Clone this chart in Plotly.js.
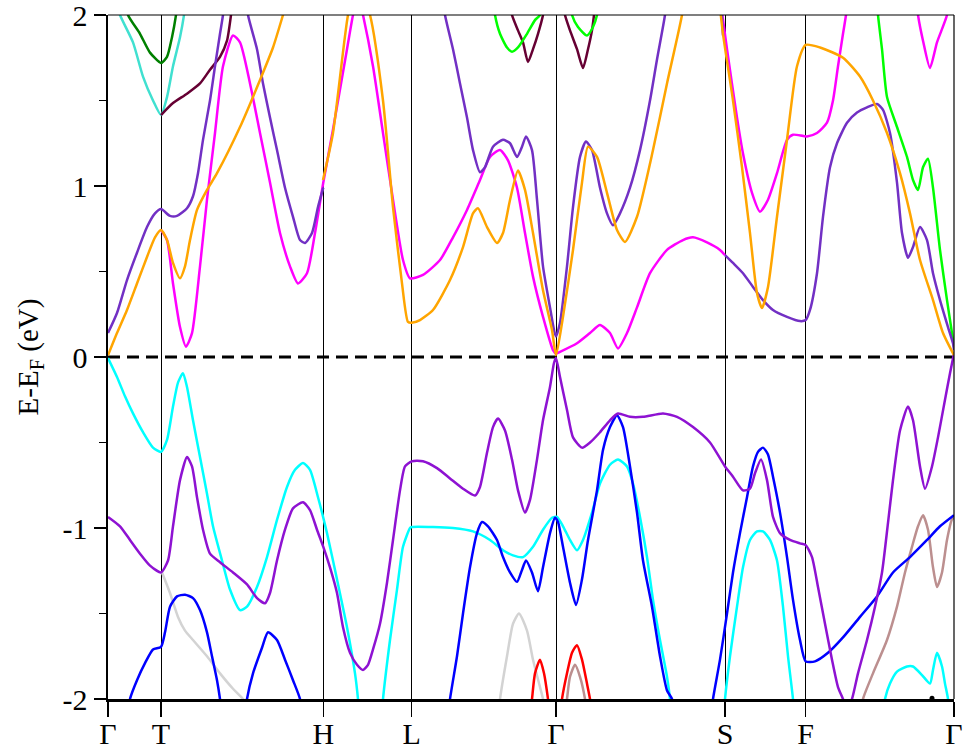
<!DOCTYPE html>
<html>
<head>
<meta charset="utf-8">
<script src="https://cdn.plot.ly/plotly-3.0.1.min.js"></script>
<style>html,body{margin:0;padding:0;background:#fff;}#plot{width:963px;height:753px;}</style>
</head>
<body>
<div id="plot"></div>
<script>
// High-symmetry path
const hsK = [0, 0.53, 2.153, 3.037, 4.48, 6.17, 6.977, 8.46];
const hsLabels = ['Γ', 'T', 'H', 'L', 'Γ', 'S', 'F', 'Γ'];
const yTickVals = [-2, -1, 0, 1, 2];
const yTickText = ['-2', '-1', '0', '1', '2'];
const yMinorVals = [-1.5, -0.5, 0.5, 1.5];
const EF = 0;

// ---- conduction bands ----
const kOrange = [0,0.09,0.19,0.29,0.39,0.47,0.53,0.59,0.65,0.72,0.77,0.82,0.89,0.99,1.09,1.32,1.52,1.65,1.75,1.85,null,
  2.15,2.25,2.40,2.49,2.62,2.75,2.85,2.94,3.00,3.037,3.12,3.25,3.42,3.55,3.65,3.70,3.79,3.89,3.95,4.02,4.10,4.17,4.25,4.35,4.44,4.48,
  4.55,4.65,4.74,4.80,4.89,4.99,5.09,5.17,5.29,5.45,5.59,5.74,5.80,null,
  6.10,6.15,6.25,6.34,6.42,6.49,6.54,6.60,6.69,6.79,6.89,6.977,7.12,7.35,7.52,7.65,7.79,7.92,8.02,8.12,8.25,8.35,8.46];
const eOrange = [0.01,0.14,0.275,0.43,0.585,0.70,0.743,0.684,0.55,0.46,0.53,0.684,0.86,0.977,1.075,1.345,1.62,1.81,2.0,2.2,null,
  1.035,1.31,2.0,2.2,2.0,1.50,0.877,0.43,0.205,0.2,0.216,0.275,0.45,0.643,0.84,0.87,0.76,0.667,0.725,0.918,1.09,0.977,0.725,0.39,0.158,0.01,
  0.235,0.626,1.02,1.23,1.17,0.96,0.743,0.673,0.82,1.21,1.60,2.0,2.25,null,
  2.15,1.89,1.50,1.11,0.725,0.374,0.286,0.41,0.82,1.27,1.70,1.825,1.81,1.75,1.64,1.50,1.31,1.075,0.84,0.567,0.333,0.14,0.01];

const kMagenta = [0.53,0.59,0.65,0.72,0.78,0.84,0.92,0.99,1.07,1.15,1.25,1.32,1.42,1.52,1.62,1.72,1.82,1.90,1.99,2.07,2.153,
  2.25,2.39,2.45,2.50,2.55,2.65,2.75,2.85,2.95,3.02,3.15,3.32,3.45,3.59,3.72,3.82,3.92,4.00,4.09,4.17,4.25,4.35,4.45,4.48,
  4.52,4.69,4.82,4.92,5.02,5.10,5.19,5.29,5.42,5.59,5.75,5.85,5.99,6.12,6.17,null,
  6.12,6.19,6.29,6.35,6.44,6.52,6.60,6.69,6.79,6.85,6.99,7.09,7.19,7.25,7.30,7.35,7.38,7.41,null,
  8.07,8.10,8.15,8.22,8.29,8.39,8.42];
const eMagenta = [0.743,0.684,0.43,0.175,0.06,0.14,0.53,0.92,1.31,1.70,1.88,1.84,1.60,1.31,1.02,0.725,0.53,0.43,0.49,0.725,1.02,
  1.33,1.80,2.0,2.12,2.0,1.70,1.31,0.92,0.567,0.46,0.48,0.567,0.70,0.86,1.035,1.17,1.21,1.15,0.99,0.725,0.47,0.235,0.04,0.02,
  0.03,0.08,0.14,0.187,0.14,0.05,0.14,0.29,0.49,0.626,0.684,0.70,0.67,0.626,0.596,null,
  2.1,1.80,1.40,1.19,0.96,0.85,0.92,1.075,1.27,1.30,1.29,1.31,1.37,1.50,1.70,1.89,2.0,2.15,null,
  2.15,2.0,1.85,1.69,1.84,2.0,2.15];

const kVioletC = [0,0.09,0.19,0.29,0.39,0.47,0.53,0.62,0.69,0.79,0.85,0.90,0.95,1.02,1.07,1.12,1.15,1.18,null,
  1.37,1.40,1.49,1.55,1.62,1.69,1.77,1.85,1.92,1.97,2.04,2.10,2.153,null,
  3.34,3.37,3.45,3.52,3.59,3.65,3.72,3.77,3.85,3.95,4.02,4.09,4.14,4.18,4.24,4.29,4.35,4.42,4.46,4.48,
  4.52,4.59,4.65,4.72,4.78,4.84,4.92,4.99,5.05,5.12,5.22,5.32,5.42,5.49,5.57,5.60,null,
  6.13,6.15,null,
  6.17,6.25,6.35,6.45,6.55,6.65,6.79,6.92,6.977,7.02,7.09,7.15,7.22,7.29,7.39,7.49,7.59,7.69,7.75,7.82,7.89,7.94,8.00,8.05,8.12,8.19,8.25,8.32,8.40,8.45,8.46];
const eVioletC = [0.14,0.257,0.45,0.61,0.76,0.84,0.865,0.825,0.825,0.87,0.94,1.075,1.27,1.50,1.70,1.89,2.0,2.15,null,
  2.15,2.0,1.80,1.60,1.40,1.21,0.99,0.82,0.684,0.667,0.725,0.877,0.99,null,
  2.15,2.0,1.80,1.60,1.40,1.21,1.08,1.11,1.23,1.27,1.25,1.17,1.23,1.29,1.21,0.92,0.53,0.29,0.158,0.12,
  0.2,0.53,0.877,1.17,1.26,1.21,0.99,0.84,0.77,0.84,0.99,1.21,1.50,1.74,2.0,2.15,null,
  2.1,1.88,null,
  0.596,0.55,0.49,0.41,0.333,0.275,0.235,0.21,0.216,0.275,0.49,0.82,1.11,1.25,1.37,1.43,1.46,1.48,1.445,1.31,1.02,0.725,0.58,0.643,0.76,0.684,0.49,0.333,0.175,0.08,0.04];

const kMaroon = [0.53,0.65,0.79,0.92,1.02,1.12,1.19,1.23,1.25,null,
  4.02,4.04,4.10,4.15,4.20,4.25,4.30,4.35,4.37,null,
  4.55,4.57,4.62,4.69,4.75,4.80,4.84,4.86,4.88];
const eMaroon = [1.415,1.485,1.54,1.60,1.68,1.755,1.85,2.0,2.1,null,
  2.1,2.0,1.91,1.84,1.725,1.80,1.89,2.0,2.1,null,
  2.1,2.0,1.91,1.80,1.69,1.80,1.91,2.0,2.1];

const kTurq = [0.07,0.12,0.25,0.35,0.45,0.53,0.59,0.65,0.72,0.76,0.78];
const eTurq = [2.1,2.0,1.84,1.64,1.50,1.415,1.52,1.70,1.87,2.0,2.1];

const kDkGreen = [0.17,0.20,0.32,0.42,0.53,0.59,0.64,0.68,0.70];
const eDkGreen = [2.1,2.0,1.89,1.78,1.72,1.755,1.87,2.0,2.1];

const kLime = [3.85,3.87,3.92,3.99,4.04,4.10,4.19,4.27,4.32,4.35,null,
  4.62,4.64,4.70,4.79,4.85,4.89,4.91,null,
  7.69,7.70,7.74,7.79,7.89,7.99,8.05,8.10,8.15,8.20,8.25,8.32,8.39,8.44,8.46];
const eLime = [2.1,2.0,1.89,1.81,1.785,1.81,1.89,1.97,2.0,2.1,null,
  2.1,2.0,1.93,1.88,1.93,2.0,2.1,null,
  2.1,2.0,1.80,1.52,1.345,1.17,1.035,0.977,1.11,1.16,0.99,0.626,0.333,0.14,0.06];

// ---- valence bands ----
const kCyan = [0,0.09,0.17,0.25,0.35,0.45,0.53,0.59,0.65,0.70,0.75,0.79,0.85,0.92,0.99,1.05,1.14,1.22,1.32,1.39,1.49,1.59,1.69,1.79,1.87,1.95,2.02,2.10,2.19,2.29,2.39,2.47,2.50,2.52,
  2.73,2.75,2.82,2.89,2.95,3.02,3.037,3.25,3.45,3.65,3.82,3.95,4.05,4.15,4.25,4.35,4.44,4.49,4.55,4.62,4.69,4.75,4.84,4.92,5.02,5.10,5.19,5.25,5.32,5.39,5.45,5.52,5.59,5.62,5.64,null,
  6.15,6.17,6.22,6.29,6.35,6.42,6.49,6.55,6.62,6.69,6.75,6.80,6.85,6.87,null,
  7.75,7.77,7.82,7.89,7.99,8.05,8.14,8.22,8.25,8.29,8.34,8.37,8.40,8.41];
const eCyan = [-0.006,-0.117,-0.23,-0.33,-0.44,-0.53,-0.555,-0.485,-0.29,-0.15,-0.095,-0.175,-0.37,-0.585,-0.80,-0.99,-1.19,-1.36,-1.48,-1.46,-1.345,-1.17,-0.953,-0.76,-0.66,-0.62,-0.66,-0.82,-1.03,-1.30,-1.58,-1.85,-2.0,-2.15,
  -2.15,-2.0,-1.655,-1.36,-1.11,-1.0,-0.994,-0.994,-1.0,-1.02,-1.07,-1.13,-1.16,-1.17,-1.11,-1.01,-0.94,-0.935,-0.99,-1.07,-1.13,-1.07,-0.91,-0.74,-0.63,-0.60,-0.64,-0.74,-0.935,-1.17,-1.42,-1.655,-1.87,-2.0,-2.15,null,
  -2.15,-2.0,-1.75,-1.46,-1.23,-1.07,-1.02,-1.02,-1.07,-1.19,-1.46,-1.75,-2.0,-2.15,null,
  -2.1,-2.0,-1.91,-1.84,-1.81,-1.81,-1.86,-1.91,-1.83,-1.73,-1.81,-1.91,-2.0,-2.1];

const kVioletV = [0,0.12,0.22,0.32,0.42,0.53,0.60,0.65,0.72,0.79,0.84,0.89,0.95,1.02,1.12,1.25,1.39,1.49,1.57,1.62,1.69,1.77,1.85,1.95,2.02,2.09,2.153,2.22,2.29,2.35,2.42,2.49,2.55,2.60,2.65,2.72,2.79,2.85,2.92,2.97,3.037,
  3.15,3.29,3.42,3.55,3.67,3.72,3.79,3.85,3.90,3.97,4.04,4.10,4.17,4.22,4.29,4.35,4.42,4.46,4.48,
  4.52,4.59,4.65,4.74,4.82,4.92,5.02,5.10,5.22,5.35,5.55,5.69,5.85,6.02,6.17,6.25,6.35,6.42,6.47,6.53,6.59,6.65,6.72,6.82,6.92,6.977,
  7.04,7.10,7.17,7.24,7.30,7.35,7.39,7.44,7.50,7.59,7.67,7.74,7.80,7.85,7.92,8.00,8.05,8.12,8.17,8.24,8.30,8.37,8.42,8.46];
const eVioletV = [-0.935,-0.99,-1.07,-1.15,-1.22,-1.26,-1.19,-0.99,-0.72,-0.585,-0.64,-0.82,-1.01,-1.15,-1.20,-1.26,-1.33,-1.41,-1.44,-1.38,-1.19,-1.01,-0.885,-0.85,-0.895,-1.01,-1.11,-1.23,-1.38,-1.58,-1.73,-1.80,-1.83,-1.80,-1.71,-1.56,-1.32,-1.07,-0.78,-0.64,-0.61,
  -0.61,-0.65,-0.71,-0.77,-0.81,-0.76,-0.56,-0.41,-0.36,-0.43,-0.60,-0.78,-0.91,-0.836,-0.60,-0.37,-0.175,-0.035,-0.006,
  -0.117,-0.31,-0.47,-0.53,-0.50,-0.44,-0.37,-0.33,-0.35,-0.35,-0.33,-0.35,-0.41,-0.50,-0.64,-0.70,-0.78,-0.77,-0.68,-0.60,-0.72,-0.935,-1.03,-1.07,-1.09,-1.10,
  -1.17,-1.345,-1.56,-1.77,-1.93,-2.0,-2.06,-2.0,-1.85,-1.655,-1.46,-1.26,-0.97,-0.72,-0.43,-0.29,-0.37,-0.64,-0.77,-0.64,-0.47,-0.25,-0.095,0.02];

const kBlue = [0.20,0.22,0.29,0.37,0.45,0.53,0.57,0.62,0.69,0.77,0.85,0.92,0.99,1.04,1.09,1.12,1.14,null,
  1.37,1.39,1.45,1.54,1.60,1.69,1.77,1.85,1.92,1.94,null,
  3.40,3.42,3.49,3.55,3.62,3.69,3.74,3.80,3.89,3.95,4.02,4.09,4.14,4.18,4.24,4.30,4.35,4.42,4.47,4.50,4.55,4.62,4.68,4.74,4.80,4.89,4.95,5.02,5.09,5.15,5.22,5.29,5.35,5.44,5.52,5.59,5.64,5.66,null,
  6.03,6.05,6.12,6.19,6.25,6.32,6.39,6.45,6.50,6.55,6.60,6.65,6.72,6.79,6.85,6.92,6.977,7.07,7.20,7.35,7.52,7.69,7.85,8.02,8.19,8.32,8.46];
const eBlue = [-2.1,-2.0,-1.89,-1.79,-1.71,-1.695,-1.61,-1.46,-1.40,-1.39,-1.41,-1.48,-1.61,-1.75,-1.89,-2.0,-2.1,null,
  -2.1,-2.0,-1.85,-1.70,-1.61,-1.655,-1.77,-1.89,-2.0,-2.1,null,
  -2.1,-2.0,-1.75,-1.50,-1.23,-1.03,-0.965,-0.99,-1.07,-1.17,-1.26,-1.315,-1.245,-1.19,-1.26,-1.37,-1.23,-1.03,-0.94,-0.965,-1.11,-1.32,-1.45,-1.30,-1.07,-0.78,-0.544,-0.41,-0.34,-0.41,-0.64,-0.91,-1.19,-1.46,-1.75,-1.95,-2.0,-2.1,null,
  -2.1,-2.0,-1.77,-1.50,-1.26,-1.03,-0.82,-0.64,-0.555,-0.53,-0.57,-0.70,-0.91,-1.17,-1.42,-1.655,-1.78,-1.78,-1.73,-1.64,-1.52,-1.40,-1.26,-1.17,-1.07,-0.99,-0.925];

const kRosy = [4.57,4.59,4.62,4.67,4.72,4.77,4.79,null,
  7.53,7.55,7.65,7.79,7.89,7.97,8.04,8.10,8.15,8.20,8.25,8.29,8.34,8.39,8.44,8.46];
const eRosy = [-2.1,-2.0,-1.87,-1.80,-1.87,-2.0,-2.1,null,
  -2.1,-2.0,-1.85,-1.655,-1.46,-1.26,-1.11,-0.99,-0.925,-1.01,-1.23,-1.345,-1.26,-1.07,-0.95,-0.94];

const kRed = [4.22,4.24,4.27,4.32,4.36,4.40,4.42,null,
  4.52,4.54,4.59,4.64,4.69,4.74,4.79,4.82,4.84];
const eRed = [-2.1,-2.0,-1.85,-1.77,-1.85,-2.0,-2.1,null,
  -2.1,-2.0,-1.85,-1.73,-1.685,-1.77,-1.91,-2.0,-2.1];

const kGray = [0.54,0.62,0.70,0.77,0.85,0.99,1.12,1.25,1.35,1.40,null,
  3.90,3.92,3.99,4.05,4.11,4.19,4.25,4.32,4.35,4.37];
const eGray = [-1.26,-1.38,-1.52,-1.60,-1.655,-1.75,-1.85,-1.94,-2.0,-2.05,null,
  -2.1,-2.0,-1.75,-1.56,-1.50,-1.60,-1.77,-1.93,-2.0,-2.1];

const kDot = [8.24];
const eDot = [-1.995];

const bands = [
  {k: kGray, e: eGray, c: '#D3D3D3'},
  {k: kRosy, e: eRosy, c: '#BC8F8F'},
  {k: kRed, e: eRed, c: '#FF0000'},
  {k: kCyan, e: eCyan, c: '#00FFFF'},
  {k: kBlue, e: eBlue, c: '#0000FF'},
  {k: kVioletV, e: eVioletV, c: '#8E12D2'},
  {k: kTurq, e: eTurq, c: '#40E0D0'},
  {k: kDkGreen, e: eDkGreen, c: '#008000'},
  {k: kMaroon, e: eMaroon, c: '#660033'},
  {k: kLime, e: eLime, c: '#00FF00'},
  {k: kMagenta, e: eMagenta, c: '#FF00FF'},
  {k: kVioletC, e: eVioletC, c: '#7230C4'},
  {k: kOrange, e: eOrange, c: '#FFA500'}
];

const traces = bands.map(b => ({
  x: b.k, y: b.e, type: 'scatter', mode: 'lines',
  line: {color: b.c, width: 2.5, shape: 'spline', smoothing: 0.6},
  connectgaps: false, hoverinfo: 'skip', showlegend: false
}));
traces.push({x: kDot, y: eDot, type: 'scatter', mode: 'markers',
  marker: {color: 'black', size: 5}, showlegend: false, hoverinfo: 'skip'});

const serif = 'Liberation Serif, Times New Roman, serif';
const layout = {
  width: 963, height: 753,
  margin: {l: 108, r: 9, t: 15, b: 54},
  paper_bgcolor: 'white', plot_bgcolor: 'white',
  showlegend: false,
  font: {family: serif, color: 'black', size: 30},
  xaxis: {
    range: [hsK[0], hsK[hsK.length - 1]],
    tickmode: 'array', tickvals: hsK, ticktext: hsLabels,
    ticks: 'outside', ticklen: 15, tickwidth: 1.3, tickcolor: 'black',
    ticklabelstandoff: -9, ticklabeloverflow: 'allow',
    showgrid: true, gridcolor: 'black', gridwidth: 1,
    zeroline: false, showline: true, linecolor: 'black', linewidth: 2.5,
    tickfont: {family: serif, size: 30, color: 'black'},
    fixedrange: true
  },
  yaxis: {
    range: [-2, 2],
    tickmode: 'array', tickvals: yTickVals, ticktext: yTickText,
    ticks: 'outside', ticklen: 12, tickwidth: 1.3, tickcolor: 'black',
    ticklabeloverflow: 'allow',
    minor: {tickmode: 'array', tickvals: yMinorVals, ticks: 'outside', ticklen: 7, tickwidth: 1.3, tickcolor: 'black', showgrid: false},
    showgrid: false, zeroline: false, showline: true, linecolor: 'black', linewidth: 2.5,
    tickfont: {family: serif, size: 30, color: 'black'},
    title: {text: 'E-E<sub>F</sub> (eV)', font: {family: serif, size: 29, color: 'black'}, standoff: 16},
    fixedrange: true
  },
  shapes: [
    {type: 'line', xref: 'paper', yref: 'y', x0: 0, x1: 1, y0: EF, y1: EF,
     line: {color: 'black', width: 2.8, dash: '12px,7px'}, layer: 'below'},
    {type: 'line', xref: 'paper', yref: 'paper', x0: 0, x1: 1, y0: 1, y1: 1,
     line: {color: 'black', width: 1.2}},
    {type: 'line', xref: 'paper', yref: 'paper', x0: 1, x1: 1, y0: 0, y1: 1,
     line: {color: 'black', width: 1.2}}
  ]
};

Plotly.newPlot('plot', traces, layout, {displayModeBar: false, staticPlot: true});
</script>
</body>
</html>
